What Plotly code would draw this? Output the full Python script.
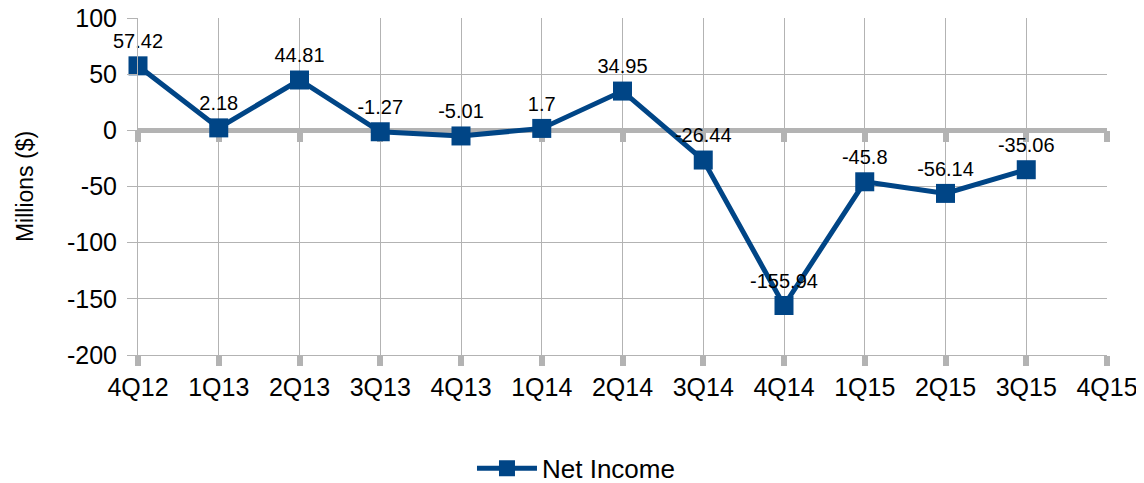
import plotly.graph_objects as go

categories = ["4Q12", "1Q13", "2Q13", "3Q13", "4Q13", "1Q14", "2Q14",
              "3Q14", "4Q14", "1Q15", "2Q15", "3Q15", "4Q15"]
net_income = [57.42, 2.18, 44.81, -1.27, -5.01, 1.7, 34.95,
              -26.44, -155.94, -45.8, -56.14, -35.06, None]
series_name = "Net Income"
y_ticks = [100, 50, 0, -50, -100, -150, -200]
y_tick_text = ["100", "50", "0", "-50", "-100", "-150", "-200"]

BLUE = "#004586"
GRID = "#b3b3b3"
FONT = "Liberation Sans, Arial, sans-serif"

labels = ["" if v is None else str(v) for v in net_income]

fig = go.Figure()
fig.add_trace(go.Scatter(
    x=categories, y=net_income, name=series_name,
    mode="lines+markers+text",
    line=dict(color=BLUE, width=5),
    marker=dict(symbol="square", size=19, color=BLUE),
    text=labels, textposition="top center",
    textfont=dict(size=20, color="black", family=FONT),
    cliponaxis=False,
))
# helper trace for the tick marks hanging under the zero line
fig.add_trace(go.Scatter(
    x=categories, y=[None] * len(categories), xaxis="x2", yaxis="y",
    mode="lines", showlegend=False, hoverinfo="skip",
))

fig.update_layout(
    width=1136, height=500,
    margin=dict(l=130, r=37, t=10, b=153),
    paper_bgcolor="white", plot_bgcolor="white",
    font=dict(family=FONT, size=25, color="black"),
    xaxis=dict(
        type="category", categoryorder="array", categoryarray=categories,
        range=[0, len(categories) - 1], automargin=False,
        showgrid=True, gridcolor=GRID, gridwidth=1,
        showline=True, linecolor=GRID, linewidth=1, mirror=False,
        ticks="outside", ticklen=10, tickwidth=6, tickcolor=GRID,
        tickfont=dict(size=25, color="black"),
        ticklabeloverflow="allow",
        zeroline=False,
    ),
    xaxis2=dict(
        type="category", categoryorder="array", categoryarray=categories,
        range=[0, len(categories) - 1], automargin=False,
        overlaying="x", anchor="free", position=2 / 3, side="bottom",
        showgrid=False, showline=False, zeroline=False,
        ticks="outside", ticklen=11, tickwidth=6, tickcolor=GRID,
        showticklabels=False, layer="below traces",
    ),
    yaxis=dict(
        range=[-200, 100], tickvals=y_ticks, ticktext=y_tick_text,
        automargin=False,
        showgrid=True, gridcolor=GRID, gridwidth=1,
        showline=True, linecolor=GRID, linewidth=1,
        ticks="outside", ticklen=10, tickwidth=1, tickcolor=GRID,
        ticklabelstandoff=5, ticklabeloverflow="allow",
        zeroline=True, zerolinecolor=GRID, zerolinewidth=5,
        tickfont=dict(size=25, color="black"),
        title=dict(text="Millions ($)", font=dict(size=23, color="black"), standoff=26),
    ),
    showlegend=True,
    legend=dict(
        orientation="h", x=0.452, xanchor="center", y=-0.336, yanchor="middle",
        font=dict(size=26, color="black"), itemwidth=60,
    ),
)

fig.write_html("out.html")
